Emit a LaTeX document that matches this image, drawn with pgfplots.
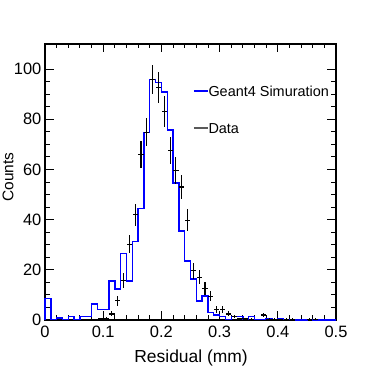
\documentclass[border=0pt]{standalone}
\usepackage{fontspec}
\setmainfont{Liberation Sans}
\usepackage{pgfplots}
\pgfplotsset{compat=1.18}
\usepackage{pgfplotstable}

% Geant4 simulation histogram: left bin edge, content
\pgfplotstableread{
x    y
0.00 0
0.00 8.5
0.01 0.2
0.02 0.8
0.03 0.2
0.04 1.3
0.05 0.3
0.06 1.3
0.07 1.3
0.08 6.4
0.09 4.3
0.10 4.3
0.11 15.5
0.12 12.3
0.13 26.5
0.14 15.5
0.15 31.2
0.16 44.4
0.17 74.8
0.18 95.8
0.19 94.7
0.20 90.8
0.21 75.8
0.22 54.6
0.23 35.5
0.24 23.5
0.25 16.3
0.26 7.6
0.27 9.5
0.28 2.9
0.29 2.0
0.30 1.3
0.31 0.2
0.32 1.5
0.33 1.5
0.34 0.3
0.35 1.5
0.36 0.2
0.37 0.2
0.38 0.5
0.39 0.3
0.40 0.5
0.41 0.2
0.42 0.2
0.43 0.0
0.44 0.0
0.45 0.2
0.46 0.0
0.47 0.0
0.48 0.0
0.49 0.0
0.50 0.0
}\simtab

% data: bin centre, content, error
\pgfplotstableread{
x     y     e
0.095 0.4   0.4
0.105 0.6   0.5
0.115 2.4   1.0
0.125 7.7   2.0
0.135 15.9  3.0
0.145 30.2  3.6
0.155 42.0  4.4
0.165 65.9  5.3
0.175 74.9  5.7
0.185 95.8  5.8
0.195 92.7  6.3
0.205 83.1  6.0
0.215 67.6  5.3
0.225 59.7  5.3
0.235 53.0  4.8
0.245 39.8  4.3
0.255 19.6  3.2
0.265 17.0  2.8
0.275 12.6  2.5
0.285 9.5   2.0
0.295 4.2   1.3
0.305 4.2   1.3
0.315 2.4   1.0
0.325 1.3   0.7
0.335 0.5   0.4
0.345 0.4   0.4
0.355 0.3   0.3
0.375 2.0   0.9
0.385 0.3   0.3
0.395 0.3   0.3
0.415 0.3   0.3
0.425 0.3   0.3
0.455 0.3   0.3
0.465 0.3   0.3
}\datatab

\begin{document}
\begin{tikzpicture}
  \useasboundingbox (0bp,0bp) rectangle (382bp,366bp);
  \begin{axis}[
    at={(45bp,46bp)}, anchor=south west,
    scale only axis,
    width=291bp, height=276bp,
    xmin=0, xmax=0.5,
    ymin=0, ymax=110,
    xtick={0,0.1,0.2,0.3,0.4,0.5},
    xticklabels={0,0.1,0.2,0.3,0.4,0.5},
    ytick={0,20,40,60,80,100},
    yticklabels={0,20,40,60,80,100},
    minor x tick num=4,
    minor y tick num=3,
    tick align=inside,
    xtick pos=both, ytick pos=both,
    major tick length=8.5bp,
    minor tick length=4.5bp,
    tick style={black, line width=0.9bp},
    axis line style={black, line width=1.3bp},
    xticklabel style={font=\fontsize{16.5}{18}\selectfont, anchor=north, inner sep=0pt, yshift=-6bp},
    yticklabel style={font=\fontsize{16.5}{18}\selectfont, anchor=east, inner sep=0pt, xshift=-3.5bp},
    xlabel={Residual (mm)},
    ylabel={Counts},
    every axis x label/.style={at={(rel axis cs:0.502,-0.155)}, anchor=base, inner sep=0pt,
      font=\fontsize{17.5}{20}\selectfont},
    every axis y label/.style={at={(rel axis cs:-0.109,0.518)}, rotate=90, anchor=base, inner sep=0pt,
      font=\fontsize{15.5}{18}\selectfont},
    clip=false,
  ]
    \addplot[blue, line width=1.4bp, const plot mark left] table[x=x, y=y] {\simtab};
    \addplot[draw=none, mark=none,
      error bars/.cd, x dir=both, x fixed=0.0045, y dir=both, y explicit,
      error mark=none, error bar style={draw=black, line width=1.1bp}]
      table[x=x, y=y, y error=e] {\datatab};

    \draw[blue, line width=1.2bp] (axis cs:0.2560,91.3) -- (axis cs:0.2796,91.3);
    \node[anchor=base west, inner sep=0pt, font=\fontsize{14.5}{16}\selectfont]
      at (axis cs:0.2806,89.2) {Geant4 Simuration};
    \draw[black!65, line width=1.2bp] (axis cs:0.2560,76.5) -- (axis cs:0.2796,76.5);
    \node[anchor=base west, inner sep=0pt, font=\fontsize{14.5}{16}\selectfont]
      at (axis cs:0.2806,74.4) {Data};
  \end{axis}
\end{tikzpicture}
\end{document}
